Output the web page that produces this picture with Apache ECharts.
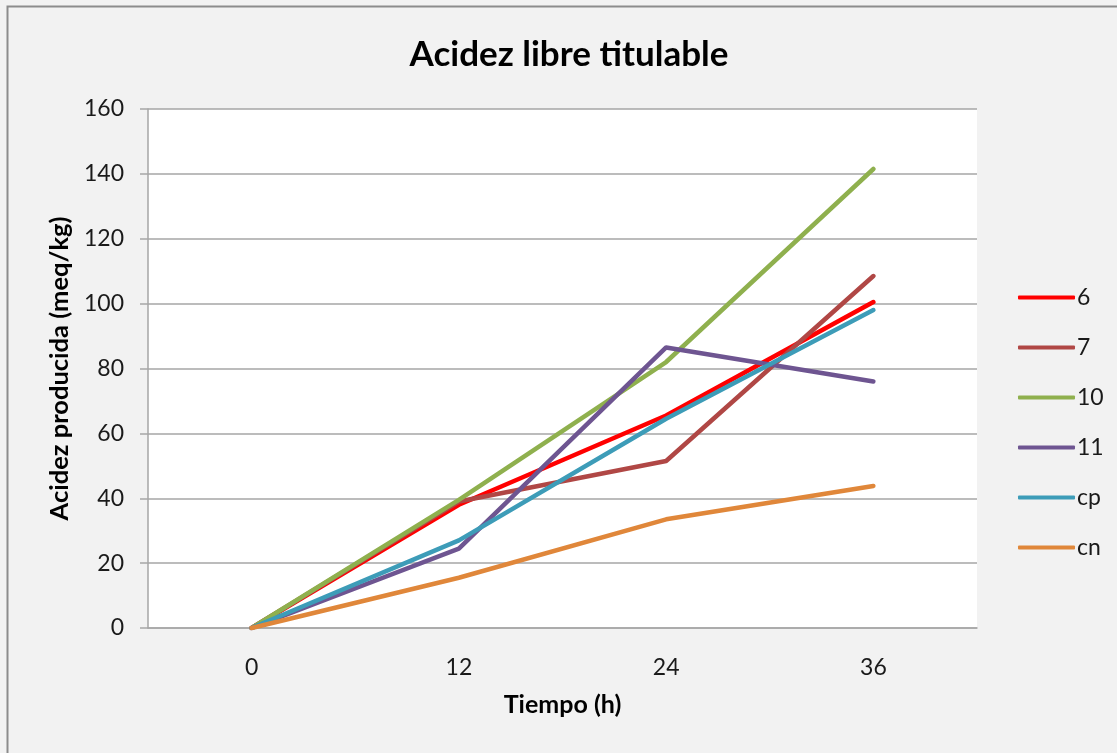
<!DOCTYPE html>
<html>
<head>
<meta charset="utf-8">
<title>Acidez libre titulable</title>
<script src="https://cdn.jsdelivr.net/npm/echarts@6/dist/echarts.min.js"></script>
<style>
  html, body { margin: 0; padding: 0; background: #f2f2f2; }
  #chart { width: 1117px; height: 753px; }
</style>
</head>
<body>
<div id="chart"></div>
<script>
// Sampling times (h)
const tiempos = ['0', '12', '24', '36'];

// Titratable acidity produced (meq/kg) per treatment
const serie6  = [0, 38, 65.5, 100.5];
const serie7  = [0, 39, 51.5, 108.5];
const serie10 = [0, 39.5, 82, 141.5];
const serie11 = [0, 24.5, 86.5, 76];
const serieCp = [0, 27, 64.5, 98];
const serieCn = [0, 15.5, 33.5, 43.8];

const nombres = ['6', '7', '10', '11', 'cp', 'cn'];
const valores = [serie6, serie7, serie10, serie11, serieCp, serieCn];
const colores = ['#ff0000', '#b04745', '#8fb04e', '#6e5591', '#3d9cb8', '#e0873a'];

const fuente = 'Lato, "Open Sans", sans-serif';

const chart = echarts.init(document.getElementById('chart'), null, { renderer: 'canvas' });

chart.setOption({
  backgroundColor: '#f2f2f2',
  animation: false,
  textStyle: { fontFamily: fuente },
  title: {
    text: 'Acidez libre titulable',
    left: 564,
    textAlign: 'center',
    top: 32,
    textStyle: { fontFamily: fuente, fontSize: 35, fontWeight: 'bold', color: '#000' }
  },
  graphic: [{
    type: 'rect',
    shape: { x: 7.5, y: 6.5, width: 1130, height: 760 },
    style: { fill: 'none', stroke: '#8c8c8c', lineWidth: 2 },
    silent: true,
    z: -1
  }],
  legend: {
    orient: 'vertical',
    left: 1013,
    top: 281,
    itemWidth: 57,
    itemHeight: 4,
    itemGap: 27,
    icon: 'roundRect',
    textStyle: { fontFamily: fuente, fontSize: 23, color: '#1a1a1a', padding: [0, 0, 0, -3] },
    data: nombres
  },
  grid: {
    left: 148,
    right: 140,
    top: 109,
    bottom: 125,
    show: true,
    backgroundColor: '#ffffff',
    borderWidth: 0
  },
  xAxis: {
    type: 'category',
    data: tiempos,
    boundaryGap: true,
    name: 'Tiempo (h)',
    nameLocation: 'middle',
    nameGap: 64,
    nameTextStyle: { fontFamily: fuente, fontSize: 25, fontWeight: 'bold', color: '#000' },
    axisLine: { show: true, lineStyle: { color: '#a6a6a6', width: 1.5 } },
    axisTick: { show: false },
    axisLabel: { margin: 28, fontFamily: fuente, fontSize: 23, color: '#1a1a1a' },
    splitLine: { show: false }
  },
  yAxis: {
    type: 'value',
    min: 0,
    max: 160,
    interval: 20,
    name: 'Acidez producida (meq/kg)',
    nameLocation: 'middle',
    nameGap: 74,
    nameTextStyle: { fontFamily: fuente, fontSize: 25.5, fontWeight: 'bold', color: '#000' },
    axisLine: { show: true, lineStyle: { color: '#a6a6a6', width: 1.5 } },
    axisTick: { show: true, length: 8, inside: false, lineStyle: { color: '#a6a6a6', width: 1.5 } },
    axisLabel: { margin: 24, fontFamily: fuente, fontSize: 23, color: '#1a1a1a' },
    splitLine: { show: true, lineStyle: { color: '#a6a6a6', width: 1.5 } }
  },
  series: nombres.map((n, i) => ({
    name: n,
    type: 'line',
    data: valores[i],
    showSymbol: false,
    symbol: 'none',
    color: colores[i],
    lineStyle: { width: 4.5, color: colores[i], cap: 'round', join: 'round' }
  }))
});
</script>
</body>
</html>
